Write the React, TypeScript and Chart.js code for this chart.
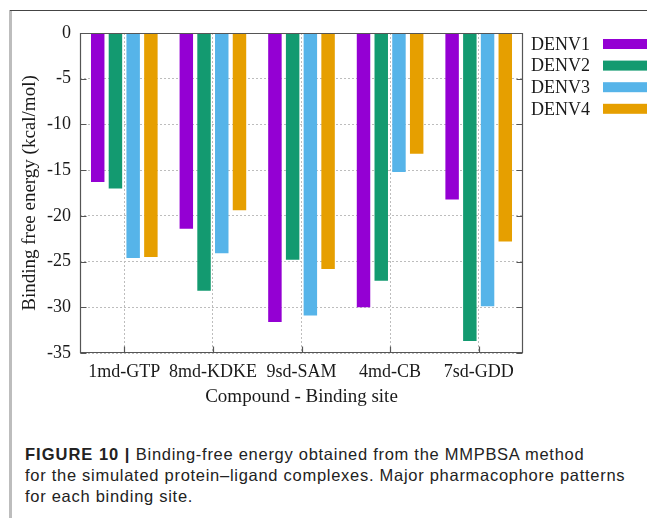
import React, { useEffect, useRef } from "react";
import { Chart, registerables } from "chart.js";

Chart.register(...registerables);

const categories = ["1md-GTP", "8md-KDKE", "9sd-SAM", "4md-CB", "7sd-GDD"];
const seriesNames = ["DENV1", "DENV2", "DENV3", "DENV4"];
const denv1 = [-16.3, -21.4, -31.6, -30.0, -18.2];
const denv2 = [-17.0, -28.2, -24.8, -27.1, -33.7];
const denv3 = [-24.6, -24.1, -30.9, -15.2, -29.9];
const denv4 = [-24.5, -19.4, -25.8, -13.2, -22.8];
const yTicks = [0, -5, -10, -15, -20, -25, -30, -35];
const seriesColors = ["#9400d3", "#139a70", "#56b4e9", "#e69f00"];

const SERIF = "'Liberation Serif', 'Times New Roman', serif";

const framePlugin = {
  id: "frameTicks",
  afterDatasetsDraw(chart: any) {
    const { ctx, chartArea } = chart;
    const { left, right, top, bottom } = chartArea;
    const ys = chart.scales.y;
    const xs = chart.scales.x;
    ctx.save();
    ctx.strokeStyle = "#555";
    ctx.lineWidth = 1.2;
    ctx.beginPath();
    const L = Math.round(left) + 0.5;
    const R = Math.round(right) - 0.5;
    const T = Math.round(top) + 0.5;
    const B = Math.round(bottom) - 0.5;
    ctx.rect(L, T, R - L, B - T);
    const tl = 6;
    ys.ticks.forEach((t: any) => {
      const y = Math.round(ys.getPixelForValue(t.value)) + 0.5;
      ctx.moveTo(L, y);
      ctx.lineTo(L + tl, y);
      ctx.moveTo(R, y);
      ctx.lineTo(R - tl, y);
    });
    xs.ticks.forEach((_t: any, i: number) => {
      const x = Math.round(xs.getPixelForTick(i)) + 0.5;
      ctx.moveTo(x, B);
      ctx.lineTo(x, B - tl);
    });
    ctx.stroke();
    ctx.restore();
  },
};

const legendPlugin = {
  id: "customLegend",
  afterDraw(chart: any) {
    const { ctx, chartArea } = chart;
    ctx.save();
    ctx.font = `18px ${SERIF}`;
    ctx.textBaseline = "middle";
    ctx.textAlign = "left";
    const textX = chartArea.right + 8;
    const boxX = chartArea.right + 80;
    const y0 = chartArea.top + 11;
    const step = 21.6;
    chart.data.datasets.forEach((ds: any, i: number) => {
      const y = y0 + i * step;
      ctx.fillStyle = "#1a1a1a";
      ctx.fillText(ds.label, textX, y + 1);
      ctx.fillStyle = ds.backgroundColor;
      ctx.fillRect(boxX, y - 5, 60, 10);
    });
    ctx.restore();
  },
};

function BarChart() {
  const ref = useRef<HTMLCanvasElement>(null);
  useEffect(() => {
    if (!ref.current) return;
    const seriesData = [denv1, denv2, denv3, denv4];
    const chart = new Chart(ref.current, {
      type: "bar",
      data: {
        labels: categories,
        datasets: seriesNames.map((name, i) => ({
          label: name,
          data: seriesData[i],
          backgroundColor: seriesColors[i],
          borderWidth: 0,
          categoryPercentage: 0.8,
          barPercentage: 0.76,
        })),
      },
      options: {
        animation: false,
        responsive: false,
        maintainAspectRatio: false,
        devicePixelRatio: 1,
        layout: { padding: { top: 23, right: 124, left: 0, bottom: 0 } },
        plugins: {
          legend: { display: false },
          tooltip: { enabled: false },
          title: { display: false },
        },
        scales: {
          x: {
            offset: true,
            grid: {
              offset: false,
              color: "#bdbdbd",
              lineWidth: 1,
              drawTicks: false,
            },
            border: { display: false, dash: [2, 2] },
            ticks: {
              padding: 8,
              autoSkip: false,
              color: "#1a1a1a",
              font: { family: SERIF, size: 18, lineHeight: 1.2 },
              maxRotation: 0,
              minRotation: 0,
            },
            title: {
              display: true,
              text: "Compound - Binding site",
              color: "#1a1a1a",
              font: { family: SERIF, size: 19, lineHeight: 1.2 },
              padding: { top: 0, bottom: 11.6 },
            },
            afterFit(scale: any) {
              scale.height = 67;
            },
          },
          y: {
            min: -35,
            max: 0,
            grid: {
              color: "#bdbdbd",
              lineWidth: 1,
              drawTicks: false,
            },
            border: { display: false, dash: [2, 2] },
            afterBuildTicks(scale: any) {
              scale.ticks = yTicks.map((v) => ({ value: v }));
            },
            ticks: {
              padding: 9,
              color: "#1a1a1a",
              font: { family: SERIF, size: 18, lineHeight: 1.2 },
              callback: (v: any) => String(v),
            },
            title: {
              display: true,
              text: "Binding free energy (kcal/mol)",
              color: "#1a1a1a",
              font: { family: SERIF, size: 19, lineHeight: 1.2 },
              padding: { top: 8.6, bottom: 0 },
            },
            afterFit(scale: any) {
              scale.width = 70;
            },
          },
        },
      },
      plugins: [framePlugin, legendPlugin],
    });
    return () => chart.destroy();
  }, []);
  return <canvas ref={ref} width={637} height={410} style={{ display: "block", width: 637, height: 410 }} />;
}

export default function App() {
  return (
    <div style={{ position: "fixed", left: 0, top: 0, width: 647, height: 518, background: "#fff", overflow: "hidden" }}>
      <div style={{ position: "absolute", left: 9, top: 10, width: 2.5, height: 508, background: "#bdbdbd" }} />
      <div style={{ position: "absolute", left: 10, top: 9.5, width: 637, height: 1.5, background: "#444" }} />
      <div style={{ position: "absolute", left: 10, top: 10 }}>
        <BarChart />
      </div>
      <div
        style={{
          position: "absolute",
          left: 25,
          top: 444,
          width: 620,
          fontFamily: "'Liberation Sans', Arial, sans-serif",
          fontSize: 16.5,
          letterSpacing: "0.72px",
          lineHeight: "21px",
          color: "#222",
          whiteSpace: "nowrap",
        }}
      >
        <b style={{ letterSpacing: "1px" }}>FIGURE 10 |</b> Binding-free energy obtained from the MMPBSA method
        <br />
        for the simulated protein–ligand complexes. Major pharmacophore patterns
        <br />
        for each binding site.
      </div>
    </div>
  );
}
